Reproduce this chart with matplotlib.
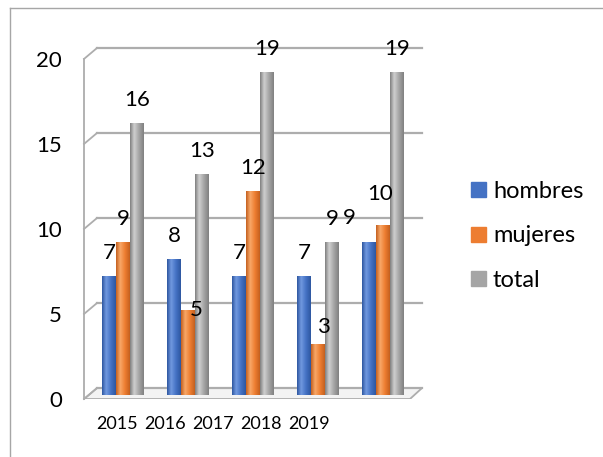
import numpy as np
import matplotlib.pyplot as plt
from matplotlib.colors import LinearSegmentedColormap
from matplotlib.patches import Patch, Polygon
from matplotlib.lines import Line2D

# data
years = ['2015', '2016', '2017', '2018', '2019']
series = ['hombres', 'mujeres', 'total']
hombres = [7, 8, 7, 7, 9]
mujeres = [9, 5, 12, 3, 10]
total = [16, 13, 19, 9, 19]
yticks = [0, 5, 10, 15, 20]

values = [hombres, mujeres, total]
colors = ['#4472C4', '#ED7D31', '#A5A5A5']
dark_cols = ['#2E57A0', '#C4601F', '#808080']
light_cols = ['#7199E0', '#F8A868', '#CFCFCF']

# label offsets in px (dx, dy) where excel moved them
label_shift = {(1, 1): (8, 0), (3, 1): (5, 17), (4, 0): (-20, 24), (4, 1): (-3, 31)}

plt.rcParams['font.family'] = ['Lato', 'DejaVu Sans']

W, H = 603, 457
fig = plt.figure(figsize=(W / 100, H / 100), dpi=100)
ax = fig.add_axes([84 / W, 1 - 399 / H, (422 - 84) / W, (399 - 48) / H])

dy_front = -0.234
dy_back = 0.41
grid_col = '#ADADAD'

# fake 3d walls
floor = Polygon([(-0.6, dy_front), (4.415, dy_front), (4.6, dy_back), (-0.4, dy_back)],
                closed=True, facecolor='#F3F3F3', edgecolor=grid_col, lw=1.3, zorder=1)
ax.add_patch(floor)
for v in yticks:
    ax.plot([-0.4, 4.6], [v + dy_back, v + dy_back], color=grid_col, lw=1.6, zorder=1, clip_on=False)
    ax.plot([-0.6, -0.4], [v + dy_front, v + dy_back], color=grid_col, lw=1.3, zorder=1, clip_on=False)
ax.plot([-0.6, -0.6], [dy_front, 20 + dy_front], color=grid_col, lw=1.3, zorder=1, clip_on=False)

x = np.arange(len(years))
bw = 0.215
grad = np.linspace(0, 1, 60).reshape(1, -1)
for s in range(3):
    cmap = LinearSegmentedColormap.from_list('c%d' % s, [(0, dark_cols[s]), (0.3, light_cols[s]),
                                                        (0.65, colors[s]), (1, dark_cols[s])])
    bars = ax.bar(x + (s - 1) * bw, values[s], bw, color=colors[s], zorder=2)
    for i, rect in enumerate(bars):
        x0 = rect.get_x()
        im = ax.imshow(grad, extent=[x0, x0 + bw, 0, values[s][i]], cmap=cmap,
                       aspect='auto', zorder=3, interpolation='bilinear')
        im.set_clip_path(rect)
        dx, dy = label_shift.get((i, s), (0, 23))
        ax.annotate(str(values[s][i]), (x0 + bw / 2, values[s][i]),
                    xytext=(dx * 0.72, dy * 0.72), textcoords='offset points',
                    ha='center', va='center', fontsize=16, color='#000000', zorder=5)

ax.set_xlim(-0.6, 4.6)
ax.set_ylim(dy_front, 20 + dy_back)
ax.set_yticks([v + dy_front for v in yticks], labels=[str(v) for v in yticks])
ax.set_xticks([-0.092 + i * 0.738 for i in range(len(years))], labels=years)
ax.tick_params(axis='y', length=0, pad=16, labelsize=16)
ax.tick_params(axis='x', length=0, pad=12, labelsize=13)
for sp in ax.spines.values():
    sp.set_visible(False)
ax.patch.set_alpha(0)

# outer chart border
fig.add_artist(Line2D([10 / W, 10 / W], [0, 1 - 8 / H], color='#A6A6A6', lw=1))
fig.add_artist(Line2D([10 / W, 1], [1 - 8 / H, 1 - 8 / H], color='#A6A6A6', lw=1))

handles = [Patch(color=c) for c in colors]
fig.legend(handles, series, loc='center left', bbox_to_anchor=(450 / W, 1 - 236 / H),
           frameon=False, fontsize=17, handlelength=0.62, handleheight=0.62,
           handletextpad=0.3, labelspacing=1.0)

fig.savefig('out.png', dpi=100)
